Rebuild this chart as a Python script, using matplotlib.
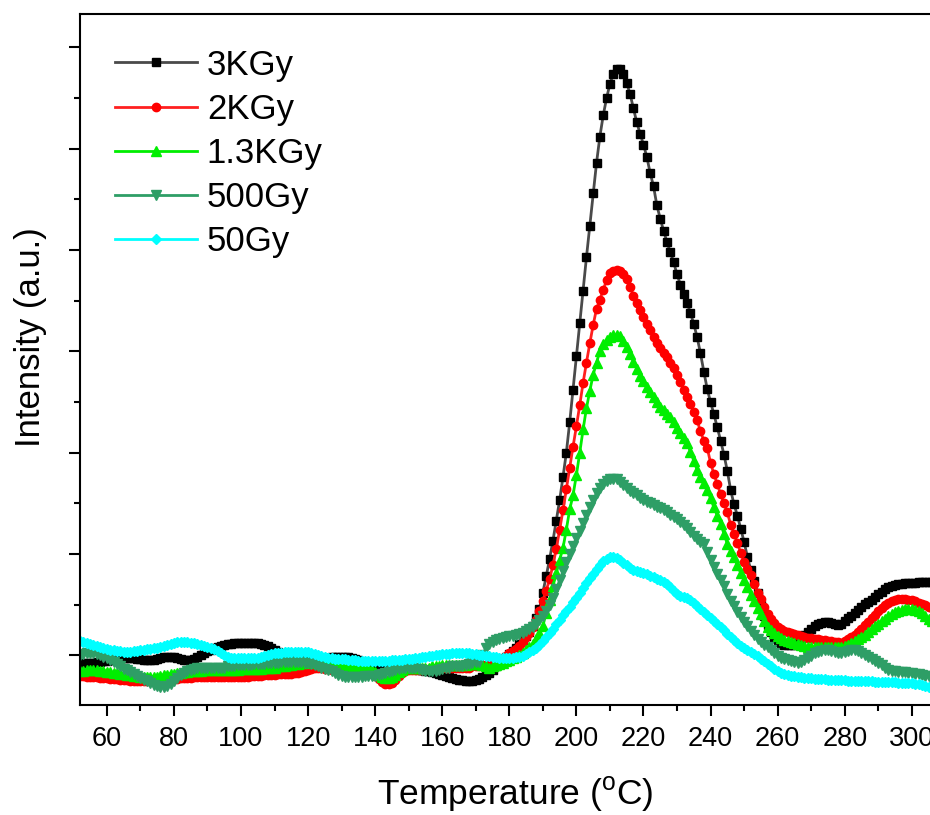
import numpy as np
import matplotlib
matplotlib.use("Agg")
import matplotlib.pyplot as plt
from matplotlib.ticker import MultipleLocator

plt.rcParams['font.family'] = ['Liberation Sans', 'DejaVu Sans']

# temperature axis, 1 degC steps
temp = np.arange(52, 307)

# TL intensity (a.u.)
kgy3 = [-0.08, -0.08, -0.08, -0.08, -0.08, -0.07, -0.07, -0.06, -0.06, -0.05,
        -0.05, -0.04, -0.04, -0.03, -0.03, -0.03, -0.03, -0.04, -0.04, -0.05,
        -0.05, -0.05, -0.05, -0.04, -0.03, -0.02, -0.02, -0.02, -0.02, -0.03,
        -0.04, -0.05, -0.05, -0.05, -0.04, -0.02, 0.00, 0.02, 0.04, 0.05,
        0.07, 0.08, 0.09, 0.10, 0.11, 0.11, 0.12, 0.12, 0.12, 0.12,
        0.12, 0.12, 0.12, 0.12, 0.11, 0.10, 0.09, 0.07, 0.05, 0.03,
        0.01, -0.01, -0.03, -0.04, -0.05, -0.05, -0.05, -0.05, -0.05, -0.05,
        -0.05, -0.04, -0.04, -0.03, -0.03, -0.02, -0.02, -0.02, -0.02, -0.02,
        -0.02, -0.03, -0.04, -0.05, -0.07, -0.08, -0.10, -0.11, -0.12, -0.13,
        -0.13, -0.13, -0.12, -0.11, -0.10, -0.10, -0.10, -0.10, -0.11, -0.12,
        -0.13, -0.14, -0.14, -0.15, -0.15, -0.16, -0.17, -0.18, -0.19, -0.20,
        -0.21, -0.22, -0.23, -0.24, -0.24, -0.25, -0.25, -0.25, -0.24, -0.23,
        -0.21, -0.19, -0.17, -0.14, -0.11, -0.08, -0.05, -0.02, 0.01, 0.04,
        0.07, 0.11, 0.15, 0.19, 0.23, 0.29, 0.37, 0.46, 0.62, 0.78,
        0.95, 1.13, 1.33, 1.53, 1.76, 2.00, 2.30, 2.62, 2.95, 3.28,
        3.60, 3.93, 4.24, 4.56, 4.86, 5.12, 5.33, 5.50, 5.64, 5.74,
        5.79, 5.79, 5.74, 5.65, 5.54, 5.40, 5.26, 5.15, 5.04, 4.92,
        4.76, 4.63, 4.44, 4.31, 4.19, 4.08, 3.98, 3.88, 3.76, 3.66,
        3.57, 3.48, 3.38, 3.27, 3.14, 2.98, 2.80, 2.63, 2.50, 2.38,
        2.25, 2.12, 1.98, 1.82, 1.63, 1.49, 1.38, 1.25, 1.12, 0.97,
        0.84, 0.73, 0.62, 0.50, 0.39, 0.30, 0.23, 0.17, 0.13, 0.11,
        0.10, 0.10, 0.10, 0.10, 0.12, 0.16, 0.20, 0.23, 0.26, 0.29,
        0.31, 0.32, 0.33, 0.33, 0.32, 0.31, 0.30, 0.31, 0.34, 0.37,
        0.39, 0.42, 0.45, 0.48, 0.51, 0.53, 0.55, 0.58, 0.61, 0.63,
        0.65, 0.67, 0.68, 0.69, 0.70, 0.70, 0.71, 0.71, 0.71, 0.71,
        0.72, 0.72, 0.72, 0.72, 0.72]

kgy2 = [-0.20, -0.20, -0.21, -0.21, -0.21, -0.21, -0.22, -0.22, -0.22, -0.23,
        -0.23, -0.23, -0.24, -0.24, -0.24, -0.25, -0.25, -0.25, -0.25, -0.25,
        -0.25, -0.25, -0.25, -0.25, -0.25, -0.25, -0.24, -0.24, -0.23, -0.23,
        -0.22, -0.22, -0.22, -0.22, -0.21, -0.21, -0.21, -0.21, -0.21, -0.21,
        -0.21, -0.21, -0.21, -0.21, -0.21, -0.21, -0.21, -0.21, -0.21, -0.21,
        -0.21, -0.20, -0.20, -0.20, -0.20, -0.19, -0.19, -0.19, -0.19, -0.18,
        -0.18, -0.18, -0.18, -0.18, -0.17, -0.17, -0.16, -0.15, -0.14, -0.13,
        -0.12, -0.12, -0.12, -0.13, -0.13, -0.14, -0.14, -0.14, -0.14, -0.15,
        -0.15, -0.15, -0.15, -0.15, -0.15, -0.15, -0.16, -0.18, -0.20, -0.23,
        -0.26, -0.28, -0.28, -0.27, -0.24, -0.20, -0.17, -0.15, -0.14, -0.14,
        -0.14, -0.14, -0.14, -0.13, -0.13, -0.13, -0.12, -0.12, -0.12, -0.12,
        -0.12, -0.12, -0.12, -0.12, -0.12, -0.12, -0.12, -0.11, -0.11, -0.11,
        -0.10, -0.10, -0.09, -0.08, -0.07, -0.05, -0.03, -0.01, 0.02, 0.04,
        0.06, 0.09, 0.13, 0.18, 0.22, 0.28, 0.35, 0.44, 0.54, 0.64,
        0.75, 0.89, 1.05, 1.24, 1.43, 1.64, 1.85, 2.06, 2.26, 2.47,
        2.69, 2.89, 3.08, 3.26, 3.42, 3.51, 3.61, 3.70, 3.77, 3.79,
        3.80, 3.79, 3.76, 3.71, 3.64, 3.55, 3.48, 3.41, 3.34, 3.27,
        3.21, 3.14, 3.08, 3.03, 2.98, 2.94, 2.89, 2.84, 2.77, 2.70,
        2.62, 2.55, 2.48, 2.40, 2.32, 2.21, 2.12, 2.05, 1.90, 1.79,
        1.69, 1.59, 1.50, 1.41, 1.29, 1.20, 1.11, 1.01, 0.92, 0.85,
        0.79, 0.70, 0.62, 0.56, 0.48, 0.41, 0.36, 0.32, 0.28, 0.26,
        0.24, 0.23, 0.22, 0.21, 0.20, 0.19, 0.18, 0.17, 0.17, 0.16,
        0.16, 0.15, 0.15, 0.14, 0.14, 0.13, 0.13, 0.12, 0.14, 0.16,
        0.18, 0.20, 0.23, 0.26, 0.30, 0.33, 0.37, 0.40, 0.44, 0.47,
        0.50, 0.52, 0.54, 0.55, 0.56, 0.56, 0.56, 0.55, 0.55, 0.54,
        0.52, 0.51, 0.50, 0.48, 0.47]

kgy13 = [-0.15, -0.15, -0.14, -0.14, -0.14, -0.14, -0.15, -0.15, -0.16, -0.16,
         -0.17, -0.17, -0.18, -0.18, -0.19, -0.19, -0.20, -0.20, -0.21, -0.21,
         -0.21, -0.21, -0.21, -0.21, -0.20, -0.19, -0.19, -0.18, -0.18, -0.17,
         -0.17, -0.16, -0.16, -0.15, -0.15, -0.15, -0.15, -0.14, -0.14, -0.14,
         -0.14, -0.14, -0.14, -0.14, -0.14, -0.14, -0.14, -0.14, -0.13, -0.13,
         -0.13, -0.13, -0.13, -0.13, -0.13, -0.12, -0.12, -0.12, -0.12, -0.11,
         -0.11, -0.11, -0.10, -0.10, -0.09, -0.09, -0.08, -0.08, -0.07, -0.07,
         -0.07, -0.08, -0.08, -0.09, -0.10, -0.10, -0.11, -0.11, -0.11, -0.11,
         -0.11, -0.11, -0.11, -0.11, -0.11, -0.11, -0.12, -0.14, -0.16, -0.19,
         -0.21, -0.22, -0.22, -0.21, -0.19, -0.16, -0.14, -0.12, -0.12, -0.12,
         -0.12, -0.12, -0.12, -0.12, -0.12, -0.11, -0.11, -0.11, -0.10, -0.10,
         -0.10, -0.10, -0.10, -0.10, -0.10, -0.10, -0.09, -0.09, -0.09, -0.09,
         -0.10, -0.11, -0.12, -0.11, -0.10, -0.09, -0.08, -0.06, -0.05, -0.03,
         -0.02, 0.00, 0.02, 0.05, 0.08, 0.11, 0.16, 0.22, 0.29, 0.42,
         0.55, 0.68, 0.81, 0.94, 1.06, 1.24, 1.44, 1.58, 1.78, 2.00,
         2.23, 2.44, 2.61, 2.77, 2.89, 3.00, 3.07, 3.11, 3.14, 3.16,
         3.16, 3.15, 3.10, 3.04, 2.97, 2.90, 2.83, 2.76, 2.71, 2.65,
         2.60, 2.55, 2.50, 2.45, 2.42, 2.38, 2.35, 2.30, 2.24, 2.19,
         2.15, 2.10, 2.01, 1.92, 1.83, 1.76, 1.70, 1.63, 1.55, 1.46,
         1.38, 1.30, 1.20, 1.10, 1.03, 0.97, 0.89, 0.81, 0.74, 0.67,
         0.60, 0.54, 0.47, 0.41, 0.34, 0.28, 0.25, 0.22, 0.19, 0.17,
         0.15, 0.14, 0.13, 0.12, 0.11, 0.10, 0.09, 0.08, 0.08, 0.08,
         0.08, 0.08, 0.08, 0.08, 0.08, 0.08, 0.08, 0.08, 0.09, 0.10,
         0.12, 0.14, 0.16, 0.18, 0.20, 0.23, 0.26, 0.29, 0.31, 0.34,
         0.36, 0.39, 0.41, 0.43, 0.44, 0.45, 0.46, 0.46, 0.46, 0.45,
         0.44, 0.42, 0.39, 0.36, 0.34]

gy500 = [0.00, 0.01, 0.02, 0.02, 0.02, 0.01, 0.00, -0.02, -0.03, -0.05,
         -0.07, -0.09, -0.11, -0.13, -0.14, -0.16, -0.18, -0.20, -0.22, -0.24,
         -0.25, -0.27, -0.29, -0.30, -0.31, -0.31, -0.30, -0.28, -0.25, -0.22,
         -0.19, -0.17, -0.15, -0.14, -0.13, -0.12, -0.12, -0.12, -0.12, -0.12,
         -0.12, -0.12, -0.12, -0.12, -0.11, -0.11, -0.11, -0.10, -0.10, -0.10,
         -0.10, -0.10, -0.09, -0.09, -0.09, -0.09, -0.08, -0.08, -0.08, -0.08,
         -0.07, -0.07, -0.07, -0.07, -0.07, -0.07, -0.07, -0.08, -0.08, -0.09,
         -0.10, -0.11, -0.12, -0.13, -0.14, -0.15, -0.17, -0.19, -0.20, -0.21,
         -0.21, -0.21, -0.21, -0.21, -0.21, -0.20, -0.20, -0.20, -0.20, -0.19,
         -0.18, -0.17, -0.16, -0.15, -0.14, -0.13, -0.12, -0.12, -0.12, -0.12,
         -0.12, -0.13, -0.14, -0.15, -0.15, -0.15, -0.15, -0.14, -0.13, -0.12,
         -0.12, -0.11, -0.11, -0.11, -0.11, -0.10, -0.09, -0.08, -0.07, -0.07,
         0.00, 0.07, 0.11, 0.13, 0.15, 0.16, 0.17, 0.18, 0.19, 0.19,
         0.20, 0.21, 0.22, 0.24, 0.26, 0.28, 0.31, 0.35, 0.39, 0.44,
         0.50, 0.57, 0.65, 0.74, 0.83, 0.92, 1.00, 1.08, 1.16, 1.23,
         1.31, 1.39, 1.46, 1.53, 1.60, 1.65, 1.69, 1.72, 1.74, 1.74,
         1.74, 1.71, 1.68, 1.65, 1.62, 1.60, 1.58, 1.55, 1.53, 1.51,
         1.50, 1.48, 1.46, 1.45, 1.43, 1.41, 1.39, 1.37, 1.35, 1.32,
         1.29, 1.26, 1.22, 1.18, 1.15, 1.12, 1.10, 1.02, 0.94, 0.87,
         0.80, 0.74, 0.68, 0.61, 0.54, 0.49, 0.43, 0.38, 0.33, 0.29,
         0.24, 0.20, 0.16, 0.13, 0.10, 0.08, 0.05, 0.02, -0.01, -0.03,
         -0.04, -0.05, -0.06, -0.07, -0.08, -0.07, -0.05, -0.03, -0.01, 0.02,
         0.03, 0.04, 0.05, 0.05, 0.04, 0.03, 0.02, 0.02, 0.03, 0.04,
         0.05, 0.05, 0.04, 0.02, 0.00, -0.02, -0.04, -0.06, -0.08, -0.10,
         -0.12, -0.14, -0.15, -0.15, -0.16, -0.16, -0.16, -0.17, -0.17, -0.18,
         -0.18, -0.19, -0.20, -0.20, -0.21]

gy50 = [0.14, 0.13, 0.12, 0.11, 0.10, 0.09, 0.08, 0.07, 0.06, 0.05,
        0.05, 0.04, 0.04, 0.03, 0.03, 0.03, 0.04, 0.04, 0.05, 0.05,
        0.06, 0.06, 0.07, 0.07, 0.08, 0.09, 0.10, 0.11, 0.12, 0.13,
        0.13, 0.13, 0.13, 0.12, 0.12, 0.11, 0.10, 0.09, 0.08, 0.07,
        0.06, 0.04, 0.02, 0.00, -0.02, -0.03, -0.03, -0.03, -0.03, -0.03,
        -0.03, -0.03, -0.03, -0.03, -0.02, -0.01, 0.00, 0.01, 0.02, 0.02,
        0.02, 0.03, 0.03, 0.03, 0.03, 0.03, 0.03, 0.03, 0.03, 0.02,
        0.01, 0.00, -0.01, -0.02, -0.03, -0.03, -0.04, -0.04, -0.04, -0.04,
        -0.05, -0.05, -0.05, -0.06, -0.06, -0.06, -0.06, -0.06, -0.06, -0.06,
        -0.06, -0.06, -0.06, -0.05, -0.05, -0.05, -0.05, -0.04, -0.04, -0.04,
        -0.03, -0.03, -0.02, -0.02, -0.01, -0.01, 0.00, 0.00, 0.01, 0.01,
        0.01, 0.02, 0.02, 0.02, 0.02, 0.02, 0.02, 0.01, 0.01, 0.00,
        0.00, -0.01, -0.01, -0.02, -0.02, -0.03, -0.03, -0.03, -0.03, -0.03,
        -0.02, -0.02, -0.01, 0.01, 0.03, 0.05, 0.07, 0.10, 0.14, 0.18,
        0.22, 0.26, 0.31, 0.35, 0.40, 0.44, 0.48, 0.53, 0.57, 0.62,
        0.66, 0.71, 0.76, 0.80, 0.85, 0.89, 0.93, 0.95, 0.97, 0.97,
        0.96, 0.94, 0.91, 0.89, 0.86, 0.84, 0.83, 0.82, 0.81, 0.80,
        0.78, 0.77, 0.75, 0.74, 0.72, 0.70, 0.67, 0.64, 0.61, 0.59,
        0.58, 0.57, 0.55, 0.52, 0.49, 0.46, 0.43, 0.40, 0.37, 0.34,
        0.31, 0.28, 0.25, 0.21, 0.18, 0.15, 0.12, 0.09, 0.07, 0.05,
        0.03, 0.01, -0.01, -0.04, -0.06, -0.09, -0.11, -0.13, -0.15, -0.17,
        -0.18, -0.19, -0.20, -0.20, -0.21, -0.21, -0.22, -0.22, -0.22, -0.23,
        -0.23, -0.23, -0.23, -0.24, -0.24, -0.24, -0.24, -0.24, -0.24, -0.25,
        -0.25, -0.25, -0.25, -0.25, -0.25, -0.25, -0.25, -0.26, -0.26, -0.26,
        -0.26, -0.26, -0.26, -0.26, -0.27, -0.27, -0.27, -0.27, -0.27, -0.28,
        -0.28, -0.29, -0.30, -0.31, -0.31]

labels = ['3KGy', '2KGy', '1.3KGy', '500Gy', '50Gy']
series = [kgy3, kgy2, kgy13, gy500, gy50]
colors = ['black', 'red', '#00ee00', '#2e9e66', 'cyan']
line_colors = ['#4a4a4a', '#ff2020', '#00ee00', '#2e9e66', 'cyan']
markers = ['s', 'o', '^', 'v', 'D']
msizes = [5.5, 6, 6.5, 6.5, 5]

fig = plt.figure(figsize=(9.3, 8.15), dpi=100)
ax = fig.add_axes([80 / 930, 1 - 705 / 815, 870 / 930, 691 / 815])

for y, lab, c, lc, m, ms in zip(series, labels, colors, line_colors, markers, msizes):
    ax.plot(temp, y, color=lc, lw=2, marker=m, ms=ms, mfc=c, mec=c,
            label=lab)

ax.set_xlim(52, 52 + 870 / 3.354)
ax.set_ylim(-0.49, 6.33)
ax.xaxis.set_major_locator(MultipleLocator(20))
ax.xaxis.set_minor_locator(MultipleLocator(10))
ax.yaxis.set_major_locator(MultipleLocator(1))
ax.yaxis.set_minor_locator(MultipleLocator(0.5))
ax.tick_params(which='major', direction='out', length=8, width=1.5,
               labelsize=19.5, pad=7)
ax.tick_params(which='minor', direction='out', length=4.5, width=1.5)
ax.tick_params(axis='y', which='both', labelleft=False)
for s in ax.spines.values():
    s.set_linewidth(1.5)

ax.set_xlabel(r'Temperature ($\mathregular{^o}$C)', fontsize=25.5, labelpad=17)
ax.set_ylabel('Intensity (a.u.)', fontsize=25)
ax.yaxis.set_label_coords(-0.038, 0.533)

ax.legend(loc='upper left', bbox_to_anchor=(0.040, 0.950), frameon=False,
          fontsize=25, numpoints=1, handlelength=2.36, handletextpad=0.29,
          labelspacing=0.32, borderpad=0, borderaxespad=0)

fig.savefig('out.png', dpi=100)
